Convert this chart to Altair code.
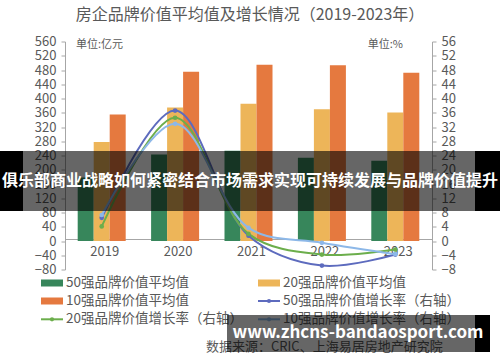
import altair as alt
import pandas as pd

# ---------------- data ----------------
years = ["2019", "2020", "2021", "2022", "2023"]
avg50 = [178, 243, 253, 234, 225]
avg20 = [278, 375, 385, 370, 361]
avg10 = [355, 475, 495, 493, 472]
g50 = [6.5, 36.6, 1.5, -6.9, -3.8]
g20 = [4.1, 34.6, 2.0, -3.8, -2.4]
g10 = [7.3, 32.9, 3.7, -0.5, -3.7]

bar_names = ["50强品牌价值平均值", "20强品牌价值平均值", "10强品牌价值平均值"]
line_names = ["50强品牌价值增长率（右轴）", "20强品牌价值增长率（右轴）", "10强品牌价值增长率（右轴）"]
left_ticks = list(range(-80, 561, 40))
right_ticks = list(range(-8, 57, 4))

title_text = "房企品牌价值平均值及增长情况（2019-2023年）"
unit_left = "单位:亿元"
unit_right = "单位:%"
source_text = "数据来源：CRIC、上海易居房地产研究院"
banner_text = "俱乐部商业战略如何紧密结合市场需求实现可持续发展与品牌价值提升"
wm_text = "www.zhcns-bandaosport.com"

# ---------------- styles ----------------
bar_colors = ["#37865B", "#EDB559", "#E5793F"]
line_colors = ["#5D6BBE", "#6CAE4C", "#8DB8E8"]
FONT = "Noto Sans CJK SC"
GRAY = "#595959"
AXC = "#A6A6A6"
OX, OY = 65, 41.5
W, H = 367, 228


def ax(x):
    return x - OX


def ay(y):
    return y - OY


bar_df = pd.DataFrame(
    [{"year": y, "series": s, "value": v}
     for s, vals in zip(bar_names, [avg50, avg20, avg10])
     for y, v in zip(years, vals)]
)
line_df = pd.DataFrame(
    [{"year": y, "series": s, "rate": v}
     for s, vals in zip(line_names, [g50, g20, g10])
     for y, v in zip(years, vals)]
)

color_scale = alt.Scale(domain=bar_names + line_names, range=bar_colors + line_colors)

x_enc = alt.X(
    "year:N",
    sort=years,
    scale=alt.Scale(domain=years, paddingInner=0.346, paddingOuter=0.173),
    axis=alt.Axis(title=None, orient="bottom", offset=-30.5, ticks=False,
                  labelPadding=6, labelFontSize=13, labelColor=GRAY, labelFont=FONT,
                  domainColor=AXC, labelAngle=0, labelOffset=3),
)

bars = alt.Chart(bar_df).mark_bar().encode(
    x=x_enc,
    xOffset=alt.XOffset("series:N", sort=bar_names,
                        scale=alt.Scale(domain=bar_names, paddingInner=0, paddingOuter=0)),
    y=alt.Y("value:Q", scale=alt.Scale(domain=[-80, 560], nice=False, zero=False),
            axis=alt.Axis(title=None, orient="left", values=left_ticks, tickSize=4,
                          labelPadding=5, labelFontSize=13, labelColor=GRAY, labelFont=FONT,
                          grid=False, domainColor=AXC, tickColor=AXC)),
    color=alt.Color("series:N", scale=color_scale, legend=None),
)

yr_scale = alt.Scale(domain=[-8, 56], nice=False, zero=False)

lines = alt.Chart(line_df).mark_line(interpolate="catmull-rom", strokeWidth=2).encode(
    x=x_enc,
    y=alt.Y("rate:Q", scale=yr_scale,
            axis=alt.Axis(title=None, orient="right", values=right_ticks, tickSize=4,
                          labelPadding=5, labelFontSize=13, labelColor=GRAY, labelFont=FONT,
                          grid=False, domainColor=AXC, tickColor=AXC)),
    color=alt.Color("series:N", scale=color_scale, legend=None),
    detail="series:N",
)

points = alt.Chart(line_df).mark_point(filled=True, size=22, opacity=1).encode(
    x=x_enc,
    y=alt.Y("rate:Q", scale=yr_scale, axis=None),
    color=alt.Color("series:N", scale=color_scale, legend=None),
)

one = pd.DataFrame({"a": [0]})


def text_layer(txt, x, y, size, color=GRAY, align="left", weight="normal"):
    return alt.Chart(one).mark_text(
        align=align, baseline="middle", font=FONT, fontSize=size, color=color,
        fontWeight=weight,
    ).encode(x=alt.value(ax(x)), y=alt.value(ay(y)), text=alt.value(txt))


def rect_layer(x1, x2, y1, y2, color, opacity=1.0):
    return alt.Chart(one).mark_rect(color=color, opacity=opacity).encode(
        x=alt.value(ax(x1)), x2=alt.value(ax(x2)),
        y=alt.value(ay(y1)), y2=alt.value(ay(y2)),
    )


layers = [bars, lines, points]

# legend (manual, two columns)
legend_items = [
    (bar_names[0], bar_colors[0], "bar"),
    (bar_names[1], bar_colors[1], "bar"),
    (bar_names[2], bar_colors[2], "bar"),
    (line_names[0], line_colors[0], "line"),
    (line_names[1], line_colors[1], "line"),
    (line_names[2], line_colors[2], "line"),
]
col_x = [41, 258]
row_y = [283, 301, 319.3]
for i, (name, c, kind) in enumerate(legend_items):
    cx = col_x[i % 2]
    cy = row_y[i // 2]
    if kind == "bar":
        layers.append(rect_layer(cx, cx + 22, cy - 3.5, cy + 3.5, c))
    else:
        layers.append(
            alt.Chart(one).mark_rule(color=c, strokeWidth=2).encode(
                x=alt.value(ax(cx)), x2=alt.value(ax(cx + 22)), y=alt.value(ay(cy)))
        )
        layers.append(
            alt.Chart(one).mark_point(filled=True, size=18, color=c, opacity=1).encode(
                x=alt.value(ax(cx + 11)), y=alt.value(ay(cy)))
        )
    layers.append(text_layer(name, cx + 25, cy, 13.5))

layers.append(text_layer(title_text, 250, 15, 16, align="center"))
layers.append(text_layer(unit_left, 76, 45, 11))
layers.append(text_layer(unit_right, 403, 45, 11, align="right"))
layers.append(text_layer(source_text, 206, 347, 13))

# overlays (watermark banners)
layers.append(rect_layer(23, 475, 151, 211, "black", 0.6))
layers.append(rect_layer(0, 23, 151, 211, "black", 1.0))
layers.append(rect_layer(475, 500, 151, 211, "black", 1.0))
layers.append(text_layer(banner_text, 250, 181, 16, color="white", align="center", weight="bold"))
layers.append(rect_layer(227, 475, 315, 352, "black", 0.6))
layers.append(rect_layer(475, 490, 315, 352, "black", 1.0))
layers.append(text_layer(wm_text, 358, 333, 17, color="white", align="center", weight="bold"))

chart = (
    alt.layer(*layers)
    .resolve_scale(y="independent")
    .properties(
        width=W,
        height=H,
        padding={"left": OX, "top": OY, "right": 500 - OX - W, "bottom": 362 - OY - H},
        autosize=alt.AutoSizeParams(type="none"),
        background="white",
    )
    .configure_view(stroke=None)
)

chart.save("out.html", embed_options={"renderer": "svg", "actions": False})
